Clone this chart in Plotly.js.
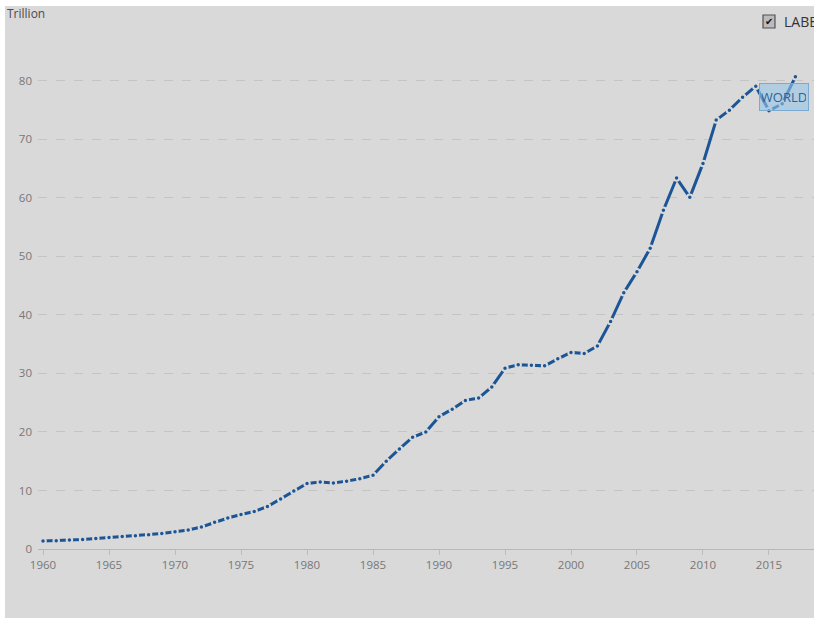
<!DOCTYPE html>
<html>
<head>
<meta charset="utf-8">
<script src="https://cdn.plot.ly/plotly-3.0.1.min.js"></script>
<style>
html,body{margin:0;padding:0;background:#ffffff;}
#chart{position:absolute;left:5px;top:6px;width:809px;height:612px;}
</style>
</head>
<body>
<div id="chart"></div>
<script>
var years = [1960,1961,1962,1963,1964,1965,1966,1967,1968,1969,
             1970,1971,1972,1973,1974,1975,1976,1977,1978,1979,
             1980,1981,1982,1983,1984,1985,1986,1987,1988,1989,
             1990,1991,1992,1993,1994,1995,1996,1997,1998,1999,
             2000,2001,2002,2003,2004,2005,2006,2007,2008,2009,
             2010,2011,2012,2013,2014,2015,2016,2017];
var gdpTrillion = [1.37,1.42,1.53,1.64,1.80,1.96,2.12,2.25,2.42,2.66,
                   2.96,3.26,3.77,4.59,5.30,5.90,6.41,7.26,8.54,9.93,
                   11.2,11.45,11.3,11.6,12.0,12.6,15.0,17.1,19.1,20.0,
                   22.6,23.9,25.4,25.8,27.7,30.9,31.5,31.4,31.3,32.5,
                   33.6,33.4,34.7,38.9,43.8,47.4,51.4,57.9,63.4,60.1,
                   65.9,73.3,75.0,77.2,79.1,74.9,76.1,80.7];
var xTickVals = [1960,1965,1970,1975,1980,1985,1990,1995,2000,2005,2010,2015];
var yTickVals = [0,10,20,30,40,50,60,70,80];
var seriesLabel = "WORLD";
var unitLabel = "Trillion";

var tickFontFamily = '"Open Sans", sans-serif';

var trace = {
  x: years,
  y: gdpTrillion,
  type: 'scatter',
  mode: 'lines+markers',
  line: {color: '#1b5596', width: 3},
  marker: {color: '#1b5596', size: 5.5, line: {color: '#d9d9d9', width: 2}},
  hoverinfo: 'x+y'
};

var layout = {
  width: 809,
  height: 612,
  margin: {l: 33, r: 0, t: 24, b: 69},
  paper_bgcolor: '#d9d9d9',
  plot_bgcolor: '#d9d9d9',
  showlegend: false,
  xaxis: {
    range: [1959.62, 2018.41],
    tickvals: xTickVals,
    ticktext: xTickVals.map(String),
    showgrid: false,
    zeroline: false,
    showline: true,
    linecolor: '#b8b8b8',
    linewidth: 1,
    ticks: 'outside',
    ticklen: 5,
    tickwidth: 1,
    tickcolor: '#bdbdbd',
    tickfont: {family: tickFontFamily, size: 11.5, color: '#777777'},
    fixedrange: true
  },
  yaxis: {
    range: [0, 88.7],
    tickvals: yTickVals,
    ticktext: yTickVals.map(String),
    showgrid: true,
    gridcolor: '#c4c4c4',
    griddash: 'dash',
    gridwidth: 1,
    zeroline: false,
    showline: false,
    ticks: '',
    ticklabelstandoff: 5,
    tickfont: {family: tickFontFamily, size: 11.5, color: '#777777'},
    fixedrange: true
  },
  shapes: [
    {type: 'rect', xref: 'paper', yref: 'paper',
     x0: 0.9343, x1: 0.9497, y0: 1.0039, y1: 1.0289,
     fillcolor: '#bcbcbc', line: {color: '#505050', width: 1.2}}
  ],
  annotations: [
    {text: unitLabel, xref: 'paper', yref: 'paper', x: -0.0425, y: 1.031,
     xanchor: 'left', yanchor: 'middle', showarrow: false,
     font: {family: '"Open Sans", sans-serif', size: 12, color: '#4a4a4a'}},
    {text: '✔', xref: 'paper', yref: 'paper', x: 0.942, y: 1.0164,
     xanchor: 'center', yanchor: 'middle', showarrow: false,
     font: {family: 'DejaVu Sans, sans-serif', size: 10, color: '#111111'}},
    {text: 'LABEL', xref: 'paper', yref: 'paper', x: 0.959, y: 1.0164,
     xanchor: 'left', yanchor: 'middle', showarrow: false,
     font: {family: '"Open Sans", sans-serif', size: 14, color: '#333333'}},
    {text: seriesLabel, x: 2016.1, y: 77.3, xref: 'x', yref: 'y',
     xanchor: 'center', yanchor: 'middle', showarrow: false,
     width: 44, height: 22,
     bgcolor: 'rgba(150,196,232,0.6)', bordercolor: '#78aad2', borderwidth: 1, borderpad: 2,
     font: {family: '"Open Sans", sans-serif', size: 13, color: '#2c6399'}}
  ]
};

Plotly.newPlot('chart', [trace], layout, {displayModeBar: false, staticPlot: true});
</script>
</body>
</html>
